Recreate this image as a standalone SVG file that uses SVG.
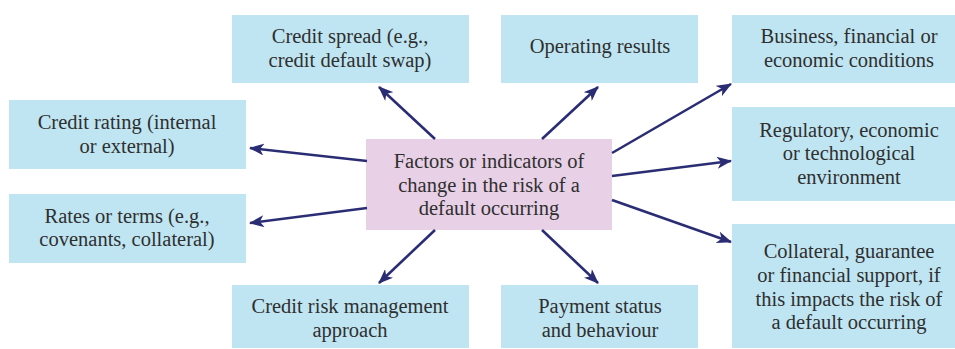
<svg xmlns="http://www.w3.org/2000/svg" width="955" height="349" viewBox="0 0 955 349">
<defs>
<style>
.box{fill:#bfe5f2;}
.ctr{fill:#e8d0e6;}
text{font-family:"Liberation Serif","Times New Roman",serif;font-size:20.5px;fill:#2f2f2f;text-anchor:middle;}
.conn line{stroke:#2b2d74;stroke-width:2.6;fill:none;marker-end:url(#ah);}
</style>
<marker id="ah" markerWidth="16" markerHeight="12" refX="14" refY="6" orient="auto" markerUnits="userSpaceOnUse">
<path d="M0,0 L15,6 L0,12 L4,6 Z" fill="#2b2d74"/>
</marker>
</defs>
<rect width="955" height="349" fill="#ffffff"/>
<g id="center">
<rect class="ctr" x="366" y="139" width="246" height="91"/>
<text x="489" y="168">Factors or indicators of</text>
<text x="489" y="192">change in the risk of a</text>
<text x="489" y="215">default occurring</text>
</g>
<g id="credit-spread">
<rect class="box" x="232" y="15" width="237" height="68"/>
<text x="350" y="43">Credit spread (e.g.,</text>
<text x="350" y="67">credit default swap)</text>
</g>
<g id="operating-results">
<rect class="box" x="501" y="15" width="197" height="68"/>
<text x="600" y="53">Operating results</text>
</g>
<g id="business">
<rect class="box" x="732" y="15" width="223" height="68"/>
<text x="849" y="43">Business, financial or</text>
<text x="849" y="67">economic conditions</text>
</g>
<g id="regulatory">
<rect class="box" x="732" y="107" width="223" height="94"/>
<text x="849" y="137">Regulatory, economic</text>
<text x="849" y="160">or technological</text>
<text x="849" y="184">environment</text>
</g>
<g id="collateral">
<rect class="box" x="732" y="224" width="223" height="124"/>
<text x="849" y="258">Collateral, guarantee</text>
<text x="849" y="282">or financial support, if</text>
<text x="849" y="306">this impacts the risk of</text>
<text x="849" y="329">a default occurring</text>
</g>
<g id="credit-rating">
<rect class="box" x="9" y="100" width="237" height="69"/>
<text x="127" y="129">Credit rating (internal</text>
<text x="127" y="153">or external)</text>
</g>
<g id="rates-terms">
<rect class="box" x="9" y="194" width="237" height="69"/>
<text x="127" y="223">Rates or terms (e.g.,</text>
<text x="127" y="246">covenants, collateral)</text>
</g>
<g id="credit-risk-management">
<rect class="box" x="232" y="285" width="237" height="63"/>
<text x="350" y="313">Credit risk management</text>
<text x="350" y="337">approach</text>
</g>
<g id="payment-status">
<rect class="box" x="501" y="285" width="197" height="63"/>
<text x="600" y="313">Payment status</text>
<text x="600" y="337">and behaviour</text>
</g>
<g id="connectors" class="conn">
<line x1="435" y1="139" x2="379" y2="87"/>
<line x1="542" y1="139" x2="598" y2="87"/>
<line x1="612" y1="153" x2="731" y2="84"/>
<line x1="612" y1="176" x2="731" y2="161"/>
<line x1="612" y1="200" x2="731" y2="242"/>
<line x1="367" y1="161" x2="250" y2="148"/>
<line x1="367" y1="208" x2="250" y2="223"/>
<line x1="435" y1="230" x2="379" y2="283"/>
<line x1="542" y1="230" x2="598" y2="283"/>
</g>
</svg>
